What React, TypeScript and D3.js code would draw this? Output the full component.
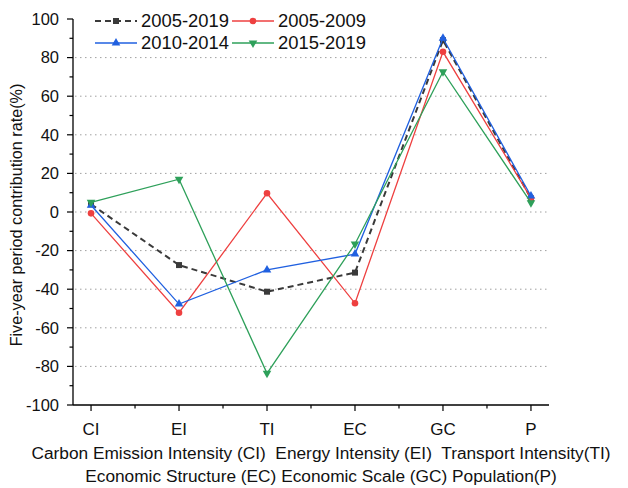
import React from "react";
import * as d3 from "d3";

const categories = ["CI", "EI", "TI", "EC", "GC", "P"];
const seriesNames = ["2005-2019", "2005-2009", "2010-2014", "2015-2019"];
const s2005_2019 = [4, -27.5, -41.3, -31.4, 89, 7];
const s2005_2009 = [-0.7, -52.2, 9.7, -47.3, 83, 7.2];
const s2010_2014 = [3.5, -47.7, -30, -21.8, 90, 8.3];
const s2015_2019 = [5, 17, -83.6, -16.6, 72.7, 4.8];
const yTicks = [100, 80, 60, 40, 20, 0, -20, -40, -60, -80, -100];
const gridValues = [80, 60, 40, 20, 0, -20, -40, -60, -80];
const footLine1 = "Carbon Emission Intensity (CI)  Energy Intensity (EI)  Transport Intensity(TI)";
const footLine2 = "Economic Structure (EC) Economic Scale (GC) Population(P)";

const W = 628, H = 488;
const L = 73, R = 549, T = 19, B = 405;

const styles = [
  { color: "#3a3a3a", dash: "6,4", width: 2, marker: "square" },
  { color: "#ee4040", dash: "", width: 1.3, marker: "circle" },
  { color: "#2060e0", dash: "", width: 1.3, marker: "triangle" },
  { color: "#2ea05a", dash: "", width: 1.3, marker: "triangleDown" },
];

function Marker({ type, x, y, color }: { type: string; x: number; y: number; color: string }) {
  if (type === "square") return <rect x={x - 3} y={y - 3} width={6} height={6} fill={color} />;
  if (type === "circle") return <circle cx={x} cy={y} r={3.3} fill={color} />;
  const sym = d3.symbol().type(d3.symbolTriangle).size(32)();
  if (type === "triangle") return <path d={sym || ""} transform={`translate(${x},${y})`} fill={color} />;
  return <path d={sym || ""} transform={`translate(${x},${y}) rotate(180)`} fill={color} />;
}

export default function App() {
  const data = [s2005_2019, s2005_2009, s2010_2014, s2015_2019];
  const x = d3.scalePoint<string>().domain(categories).range([L, R]).padding(0.205);
  const y = d3.scaleLinear().domain([-100, 100]).range([B, T]);
  const line = d3
    .line<number>()
    .x((_, i) => x(categories[i]) as number)
    .y((d) => y(d));
  const minorY = d3.range(-90, 100, 20);
  const step = x.step();
  const font = "Arial, 'Liberation Sans', sans-serif";

  return (
    <svg width={W} height={H} style={{ position: "absolute", left: 0, top: 0, background: "#fff" }} fontFamily={font}>
      <rect x={0} y={0} width={W} height={H} fill="#fff" />
      {gridValues.map((v) => (
        <line key={v} x1={L + 2} x2={R} y1={y(v)} y2={y(v)} stroke="#a0a0a0" strokeWidth={1} strokeDasharray="1.5,3.5" />
      ))}
      {/* axes */}
      <line x1={L} x2={L} y1={T} y2={B} stroke="#000" strokeWidth={1.3} />
      <line x1={L} x2={R} y1={B} y2={B} stroke="#000" strokeWidth={1.3} />
      {yTicks.map((v) => (
        <g key={v}>
          <line x1={L - 6} x2={L} y1={y(v)} y2={y(v)} stroke="#000" strokeWidth={1.2} />
          <text x={L - 14} y={y(v)} dy="0.35em" textAnchor="end" fontSize={16.5} fill="#111">
            {v}
          </text>
        </g>
      ))}
      {minorY.map((v) => (
        <line key={v} x1={L - 3.5} x2={L} y1={y(v)} y2={y(v)} stroke="#000" strokeWidth={1.2} />
      ))}
      {categories.map((c, i) => (
        <g key={c}>
          <line x1={x(c)} x2={x(c)} y1={B} y2={B + 6} stroke="#000" strokeWidth={1.2} />
          {i < categories.length - 1 && (
            <line x1={(x(c) as number) + step / 2} x2={(x(c) as number) + step / 2} y1={B} y2={B + 3.5} stroke="#000" strokeWidth={1.2} />
          )}
          <text x={x(c)} y={429} dy="0.35em" textAnchor="middle" fontSize={17} fill="#111">
            {c}
          </text>
        </g>
      ))}
      <text
        transform={`translate(16,${(T + B) / 2 + 3}) rotate(-90)`}
        textAnchor="middle"
        dy="0.35em"
        fontSize={16.2}
        fill="#111"
      >
        Five-year period contribution rate(%)
      </text>
      <text x={321} y={453} dy="0.35em" textAnchor="middle" fontSize={17.3} fill="#111" style={{ whiteSpace: "pre" }}>
        {footLine1}
      </text>
      <text x={321} y={476} dy="0.35em" textAnchor="middle" fontSize={17.3} fill="#111">
        {footLine2}
      </text>
      {/* series */}
      {data.map((vals, si) => (
        <g key={si}>
          <path d={line(vals) || ""} fill="none" stroke={styles[si].color} strokeWidth={styles[si].width} strokeDasharray={styles[si].dash} />
          {vals.map((v, i) => (
            <Marker key={i} type={styles[si].marker} x={x(categories[i]) as number} y={y(v)} color={styles[si].color} />
          ))}
        </g>
      ))}
      {/* legend */}
      {seriesNames.map((n, si) => {
        const col = si === 0 || si === 2 ? 0 : 1;
        const row = si < 2 ? 0 : 1;
        const lx = col === 0 ? 95 : 232;
        const ly = row === 0 ? 21 : 43;
        return (
          <g key={n}>
            <line x1={lx} x2={lx + 42} y1={ly} y2={ly} stroke={styles[si].color} strokeWidth={styles[si].width} strokeDasharray={styles[si].dash} />
            <Marker type={styles[si].marker} x={lx + 21} y={ly} color={styles[si].color} />
            <text x={lx + 46} y={ly} dy="0.35em" fontSize={18.4} fill="#111">
              {n}
            </text>
          </g>
        );
      })}
    </svg>
  );
}
